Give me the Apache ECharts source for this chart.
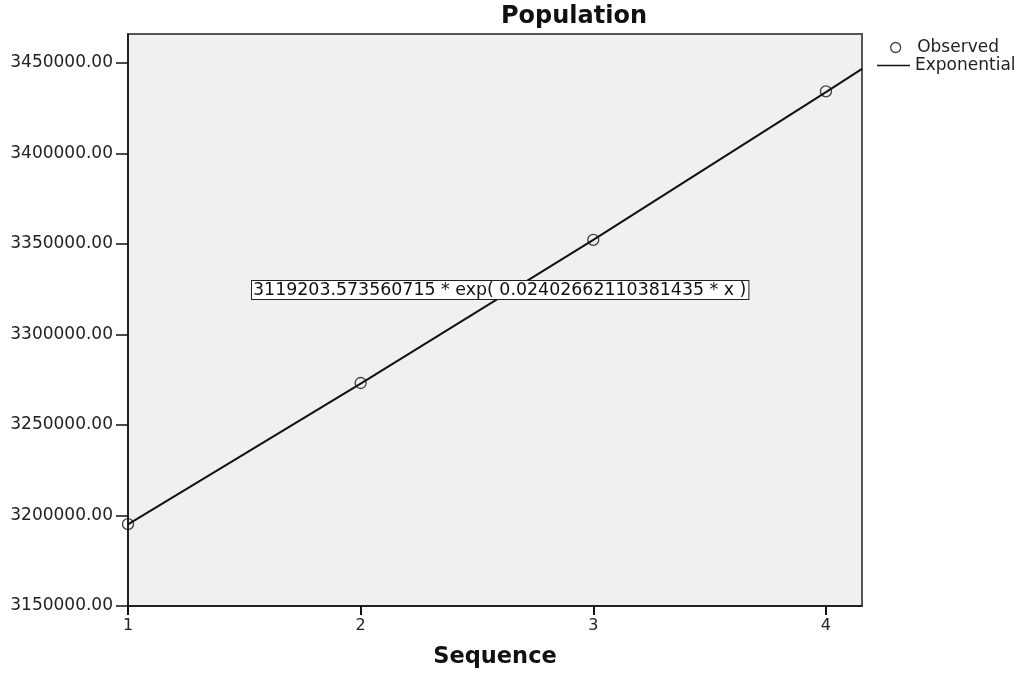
<!DOCTYPE html>
<html>
<head>
<meta charset="utf-8">
<script src="https://cdn.jsdelivr.net/npm/echarts@6/dist/echarts.min.js"></script>
<style>html,body{margin:0;padding:0;background:#fff}#c{width:1020px;height:674px}</style>
</head>
<body>
<div id="c"></div>
<script>
// Data
var sequence = [1, 2, 3, 4];
var observed = [3195200, 3273200, 3352300, 3434300];
var fitX = [1, 2, 3, 4, 4.155];
var fitY = [3195100, 3272800, 3352300, 3433900, 3446700];
var yTicks = [3150000, 3200000, 3250000, 3300000, 3350000, 3400000, 3450000];
var xTicks = [1, 2, 3, 4];
var equationText = '3119203.573560715 * exp( 0.02402662110381435 * x )';

var FONT = 'DejaVu Sans';
var chart = echarts.init(document.getElementById('c'));
chart.setOption({
  animation: false,
  textStyle: { fontFamily: FONT },
  grid: {
    left: 128, right: 158, top: 34, bottom: 66,
    show: true, backgroundColor: '#f0f0f0', borderColor: '#555', borderWidth: 2
  },
  legend: [
    {
      orient: 'vertical', left: 890, top: 39, padding: 0, itemWidth: 33, itemHeight: 10,
      textStyle: { fontFamily: FONT, fontSize: 17, color: '#222' },
      itemStyle: { color: 'rgba(0,0,0,0)', borderColor: '#111', borderWidth: 1.3 },
      data: [{ name: 'Observed', icon: 'circle' }]
    },
    {
      orient: 'vertical', left: 877, top: 57, padding: 0, itemWidth: 33, itemHeight: 1.6,
      textStyle: { fontFamily: FONT, fontSize: 17, color: '#222' },
      data: [{ name: 'Exponential', icon: 'rect' }]
    }
  ],
  xAxis: {
    type: 'value', min: 1, max: 4.155,
    name: 'Sequence', nameLocation: 'middle', nameGap: 40,
    nameTextStyle: { fontFamily: FONT, fontSize: 22.5, fontWeight: 'bold', color: '#111' },
    axisLine: { show: true, lineStyle: { color: '#111', width: 1.5 } },
    axisTick: { show: true, length: 9, customValues: xTicks, lineStyle: { color: '#111', width: 2 } },
    axisLabel: { customValues: xTicks, margin: 12, fontSize: 16, color: '#222', fontFamily: FONT },
    splitLine: { show: false }
  },
  yAxis: {
    type: 'value', min: 3150000, max: 3466000,
    axisLine: { show: true, lineStyle: { color: '#111', width: 1.5 } },
    axisTick: { show: true, length: 12, customValues: yTicks, lineStyle: { color: '#111', width: 1.5 } },
    axisLabel: {
      customValues: yTicks, margin: 15, fontSize: 17, color: '#222', fontFamily: FONT,
      formatter: function (v) { return v.toFixed(2); }
    },
    splitLine: { show: false }
  },
  graphic: [
    {
      type: 'text', x: 574, y: 17, z: 100,
      style: { text: 'Population', align: 'center', verticalAlign: 'middle',
        font: 'bold 24px "DejaVu Sans"', fill: '#111' }
    },
    {
      type: 'text', x: 252, y: 281, z: 100,
      style: { text: equationText, align: 'left', verticalAlign: 'top',
        font: '17.4px "DejaVu Sans"', fill: '#111',
        backgroundColor: '#fff', borderColor: '#222', borderWidth: 1, padding: [1, 2, 0, 1] }
    }
  ],
  series: [
    {
      name: 'Exponential', type: 'line', symbol: 'none', smooth: false,
      lineStyle: { color: '#111', width: 2 }, itemStyle: { color: '#111' },
      data: fitX.map(function (x, i) { return [x, fitY[i]]; }), z: 2
    },
    {
      name: 'Observed', type: 'scatter', symbol: 'circle', symbolSize: 11,
      itemStyle: { color: 'rgba(0,0,0,0)', borderColor: '#111', borderWidth: 1.3 },
      data: sequence.map(function (x, i) { return [x, observed[i]]; }), z: 3
    }
  ]
});
</script>
</body>
</html>
